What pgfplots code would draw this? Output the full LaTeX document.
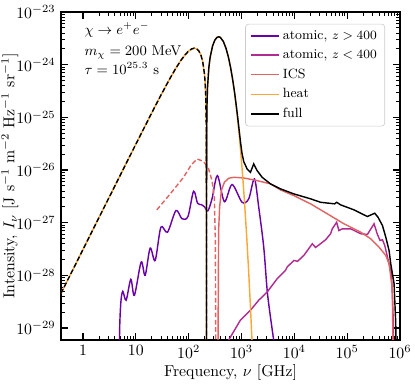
\documentclass[border=0pt]{standalone}
\usepackage{pgfplots}
\pgfplotsset{compat=1.18}
\definecolor{cA}{HTML}{6A00A8}
\definecolor{cB}{HTML}{B12A90}
\definecolor{cC}{HTML}{E16462}
\definecolor{cD}{HTML}{FCA636}
\begin{document}
\begin{tikzpicture}
\begin{axis}[
  xmode=log, ymode=log,
  scale only axis, width=214.6pt, height=207.6pt,
  xmin=0.383, xmax=1e6, ymin=5.93e-30, ymax=1e-23,
  xtick={1,10,100,1000,10000,100000,1000000},
  xticklabels={$1$,$10$,$10^{2}$,$10^{3}$,$10^{4}$,$10^{5}$,$10^{6}$},
  ytick={1e-29,1e-28,1e-27,1e-26,1e-25,1e-24,1e-23},
  tick align=inside,
  major tick length=4.5pt, minor tick length=2.5pt,
  major tick style={line width=0.8pt, black},
  minor tick style={line width=0.5pt, black},
  axis line style={line width=1pt},
  xlabel={Frequency, $\nu$ [GHz]},
  ylabel={Intensity, $I_\nu$ [J s$^{-1}$ m$^{-2}$ Hz$^{-1}$ sr$^{-1}$]},
  xlabel style={at={(axis description cs:0.5,-0.098)}, anchor=center},
  ylabel style={at={(axis description cs:-0.1505,0.5)}, anchor=center},
  legend style={at={(0.956,0.964)}, anchor=north east, draw=black!20,
    rounded corners=2pt, fill=white, fill opacity=0.8, text opacity=1,
    font=\fontsize{8.5}{10}\selectfont, row sep=1pt},
  legend cell align=left,
  legend image code/.code={\draw[#1] (0pt,0pt) -- (17.8pt,0pt);},
]
% atomic z>400
\addplot[cA, line width=0.9pt, smooth, tension=0.5] coordinates {
(4.86,1e-31) (4.90,6e-30) (5.19,2.95e-29) (5.66,4.98e-29) (6.55,3.37e-29)
(8.04,8.40e-29) (9.40,4.18e-29) (12.61,1.79e-28) (15.0,1.0e-28) (18.67,3.29e-28)
(23.23,1.92e-28) (29.8,8.22e-28) (39.8,6.61e-28) (57.4,1.70e-27) (74.6,1.19e-27)
(97.0,1.31e-27) (123.9,3.95e-27) (147.5,2.34e-27) (175,2.2e-27) (200,2.0e-27)
(230.4,1.67e-27) (276.7,2.84e-27) (350,7.83e-27) (475,2.5e-27) (663.7,5.3e-27)
(1026,2.44e-27) (1370,2.84e-27) (1758,6.78e-27) (2119,1.97e-27) (2636,3.44e-28)
(3062,5.2e-29) (3532,1.62e-29) (4300,4e-30)
};
\addlegendentry{atomic, $z > 400$}
% atomic z<400
\addplot[cB, line width=0.9pt] coordinates {
(398,2.45e-30) (571.5,5.9e-30) (952.6,1.41e-29) (1476,2.17e-29) (2119,3.37e-29)
(3062,4.83e-29) (4742,8.65e-29) (6808,1.245e-28) (7328,1.44e-28) (9795,1.92e-28)
(11500,1.85e-28) (15140,2.39e-28) (21880,3.98e-28) (25230,3.39e-28) (29170,3.78e-28)
(39080,4.74e-28) (48640,6.17e-28) (52360,7.66e-28) (63240,1.02e-27) (69830,7.11e-28)
(81100,7.66e-28) (116500,7.66e-28) (180300,6.17e-28) (241500,5.98e-28) (322800,9.53e-28)
(374100,5.98e-28) (419100,4.60e-28) (465600,4.74e-28) (515200,3.70e-28) (579400,2.22e-28)
(690200,1.08e-28) (746400,1.4e-29) (767400,1e-31)
};
\addlegendentry{atomic, $z < 400$}
% ICS negative (dashed)
\addplot[cC, line width=0.9pt, dash pattern=on 3pt off 1.6pt, forget plot] coordinates {
(25.0,1.754e-27) (44.77,3.52e-27) (80.0,7.28e-27) (112.2,1.26e-26) (143.9,1.62e-26)
(191.9,1.46e-26) (238.8,1.05e-26) (276.7,6.30e-27) (306.2,3.04e-27) (319.9,4.60e-28)
(331.1,1e-31)
};
% ICS positive
\addplot[cC, line width=0.9pt] coordinates {
(352,1e-31) (369.0,7.11e-28) (385.5,1.97e-27) (415.9,4.07e-27) (474.2,5.85e-27)
(571.5,6.97e-27) (711.2,7.28e-27) (1102,7.08e-27) (1977,6.30e-27) (3532,5.46e-27)
(5470,4.20e-27) (9795,3.27e-27) (20280,2.28e-27) (42070,1.476e-27) (86900,9.53e-28)
(180300,6.61e-28) (279300,4.95e-28) (400900,3.44e-28) (538300,2.39e-28) (620900,1.667e-28)
(721100,5.20e-29) (753400,1e-31)
};
\addlegendentry{ICS}
% heat negative
\addplot[cD, line width=0.9pt, forget plot] coordinates {
(0.383,4.55e-29) (1,3.10e-28) (3,2.79e-27) (10,3.09e-26) (19.87,1.20e-25)
(28.39,2.40e-25) (42.6,5.12e-25) (56.78,8.45e-25) (70.98,1.20e-24) (85.17,1.533e-24)
(99.37,1.808e-24) (113.56,1.99e-24) (127.76,2.06e-24) (141.95,2.00e-24) (156.1,1.827e-24)
(170.34,1.531e-24) (184.5,1.142e-24) (198.7,6.80e-25) (204.4,4.80e-25) (210.1,2.74e-25)
(215.8,6.37e-26) (216.9,2.13e-26) (217.41,2.2e-27) (217.47,1e-31)
};
% heat positive
\addplot[cD, line width=0.9pt] coordinates {
(217.49,1e-31) (218.0,2.11e-26) (221.4,1.49e-25) (227.1,3.63e-25) (241.3,8.93e-25)
(255.5,1.40e-24) (283.9,2.279e-24) (312.3,2.913e-24) (340.7,3.277e-24) (369.1,3.391e-24)
(397.5,3.305e-24) (454.2,2.752e-24) (511.0,2.026e-24) (567.8,1.362e-24) (624.6,8.56e-25)
(681.4,5.10e-25) (738.1,2.905e-25) (794.9,1.597e-25) (851.7,8.52e-26) (908.5,4.43e-26)
(965.3,2.25e-26) (1022,1.12e-26) (1078.8,5.48e-27) (1135.6,2.64e-27) (1249.2,5.88e-28)
(1362.7,1.25e-28) (1476.3,2.57e-29) (1589.8,5.1e-30) (1703.4,9.9e-31)
};
\addlegendentry{heat}
% full negative (dashed)
\addplot[black, line width=0.9pt, dash pattern=on 3pt off 1.6pt, forget plot] coordinates {
(0.383,4.55e-29) (1,3.10e-28) (3,2.79e-27) (10,3.09e-26) (19.87,1.20e-25)
(28.39,2.40e-25) (42.6,5.12e-25) (56.78,8.45e-25) (70.98,1.20e-24) (85.17,1.533e-24)
(99.37,1.808e-24) (113.56,1.99e-24) (127.76,2.06e-24) (141.95,2.00e-24) (156.1,1.827e-24)
(170.34,1.531e-24) (184.5,1.142e-24) (198.7,6.80e-25) (204.4,4.80e-25) (210.1,2.74e-25)
(215.8,6.37e-26) (216.9,2.13e-26) (217.41,2.2e-27) (217.47,1e-31)
};
% full positive
\addplot[black, line width=0.9pt] coordinates {
(217.49,1e-31) (218.0,2.11e-26) (221.4,1.49e-25) (227.1,3.63e-25) (241.3,8.93e-25)
(255.5,1.40e-24) (283.9,2.28e-24) (312.3,2.913e-24) (340.7,3.277e-24) (369.1,3.391e-24)
(397.5,3.305e-24) (454.2,2.755e-24) (511.0,2.03e-24) (567.8,1.37e-24) (624.6,8.65e-25)
(681.4,5.2e-25) (738.1,3.03e-25) (794.9,1.71e-25) (851.7,9.56e-26) (908.5,5.42e-26)
(965.3,3.21e-26) (1022,2.08e-26) (1102,1.45e-26) (1276,1.05e-26) (1476,9.04e-27)
(1702,1.305e-26) (1977,9.75e-27) (2460,7.28e-27) (3532,5.46e-27) (5470,4.39e-27)
(9795,3.52e-27) (20280,2.84e-27) (31410,2.44e-27) (57940,2.28e-27) (63240,2.44e-27)
(75340,2.18e-27) (134600,1.754e-27) (241500,1.31e-27) (332700,1.514e-27) (383700,1.27e-27)
(465600,8.85e-28) (538300,5.31e-28) (620900,2.97e-28) (668300,1.667e-28) (772700,6.97e-29)
(831800,1.216e-29) (871000,1e-31)
};
\addlegendentry{full}
\node[anchor=base west, font=\small] at (axis description cs:0.053,0.930) {$\chi \to e^+e^-$};
\node[anchor=base west, font=\small] at (axis description cs:0.053,0.867) {$m_\chi = 200$ MeV};
\node[anchor=base west, font=\small] at (axis description cs:0.053,0.808) {$\tau = 10^{25.3}$ s};
\end{axis}
\pgfresetboundingbox
\path[use as bounding box] ([shift={(-38.6pt,-29.1pt)}]current axis.south west) rectangle ([shift={(9.5pt,7.6pt)}]current axis.north east);
\end{tikzpicture}
\end{document}
